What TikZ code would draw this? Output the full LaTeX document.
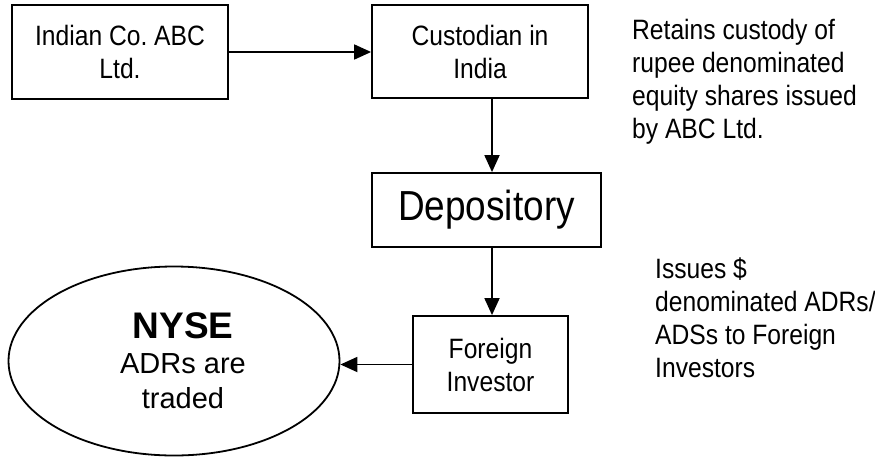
\documentclass[tikz,border=0pt]{standalone}
\usepackage{fontspec}
\setmainfont{Liberation Sans}
\newfontfamily\narrowfont{Liberation Sans}[FakeStretch=0.88]
\usetikzlibrary{arrows.meta,shapes.geometric}
\frenchspacing
\tikzset{
    box/.style={draw, line width=1.8pt, inner sep=0pt, align=center,
        font=\narrowfont\fontsize{28}{33}\selectfont},
    note/.style={inner sep=0pt, align=left, anchor=north west,
        font=\narrowfont\fontsize{28}{33}\selectfont},
    flow/.style={line width=1.8pt, -{Triangle[length=17pt,width=15pt]}}
}
\begin{document}
\begin{tikzpicture}[x=1pt, y=-1pt]
        \useasboundingbox (0, 0) rectangle (875, 458);
        \node[box, minimum width=216pt, minimum height=94pt] (abc) at (120, 52) {Indian Co. ABC\\Ltd.};
        \node[box, minimum width=216pt, minimum height=93pt] (cust) at (480, 51.5) {Custodian in\\India};
        \node[box, minimum width=229pt, minimum height=74pt, font=\narrowfont\fontsize{42}{48}\selectfont] (dep) at (486.5, 210) {Depository};
        \node[box, minimum width=155pt, minimum height=97pt] (inv) at (490.5, 364.5) {Foreign\\Investor};
        \node[draw, ellipse, line width=1.8pt, inner sep=0pt, minimum width=331pt, minimum height=189pt] (nyse) at (174, 361) {};
        \node[align=center, inner sep=0pt, font=\fontsize{29}{35}\selectfont] (nysetext) at (183, 361) {{\fontsize{37}{37}\selectfont\bfseries NYSE}\\ADRs are\\traded};
        \node[note] (retain) at (632, 19.5) {Retains custody of\\rupee denominated\\equity shares issued\\by ABC Ltd.};
        \node[note] (issue) at (655, 257.5) {Issues \$\\denominated ADRs/\\ADSs to Foreign\\Investors};
        \coordinate (col) at (492, 0);
        \draw[flow] (abc.east) -- (cust.west |- abc.east);
        \draw[flow] (cust.south -| col) -- (dep.north -| col);
        \draw[flow] (dep.south -| col) -- (inv.north -| col);
        \draw[flow] (inv.west) -- (nyse.east |- inv.west);
    \end{tikzpicture}
\end{document}
